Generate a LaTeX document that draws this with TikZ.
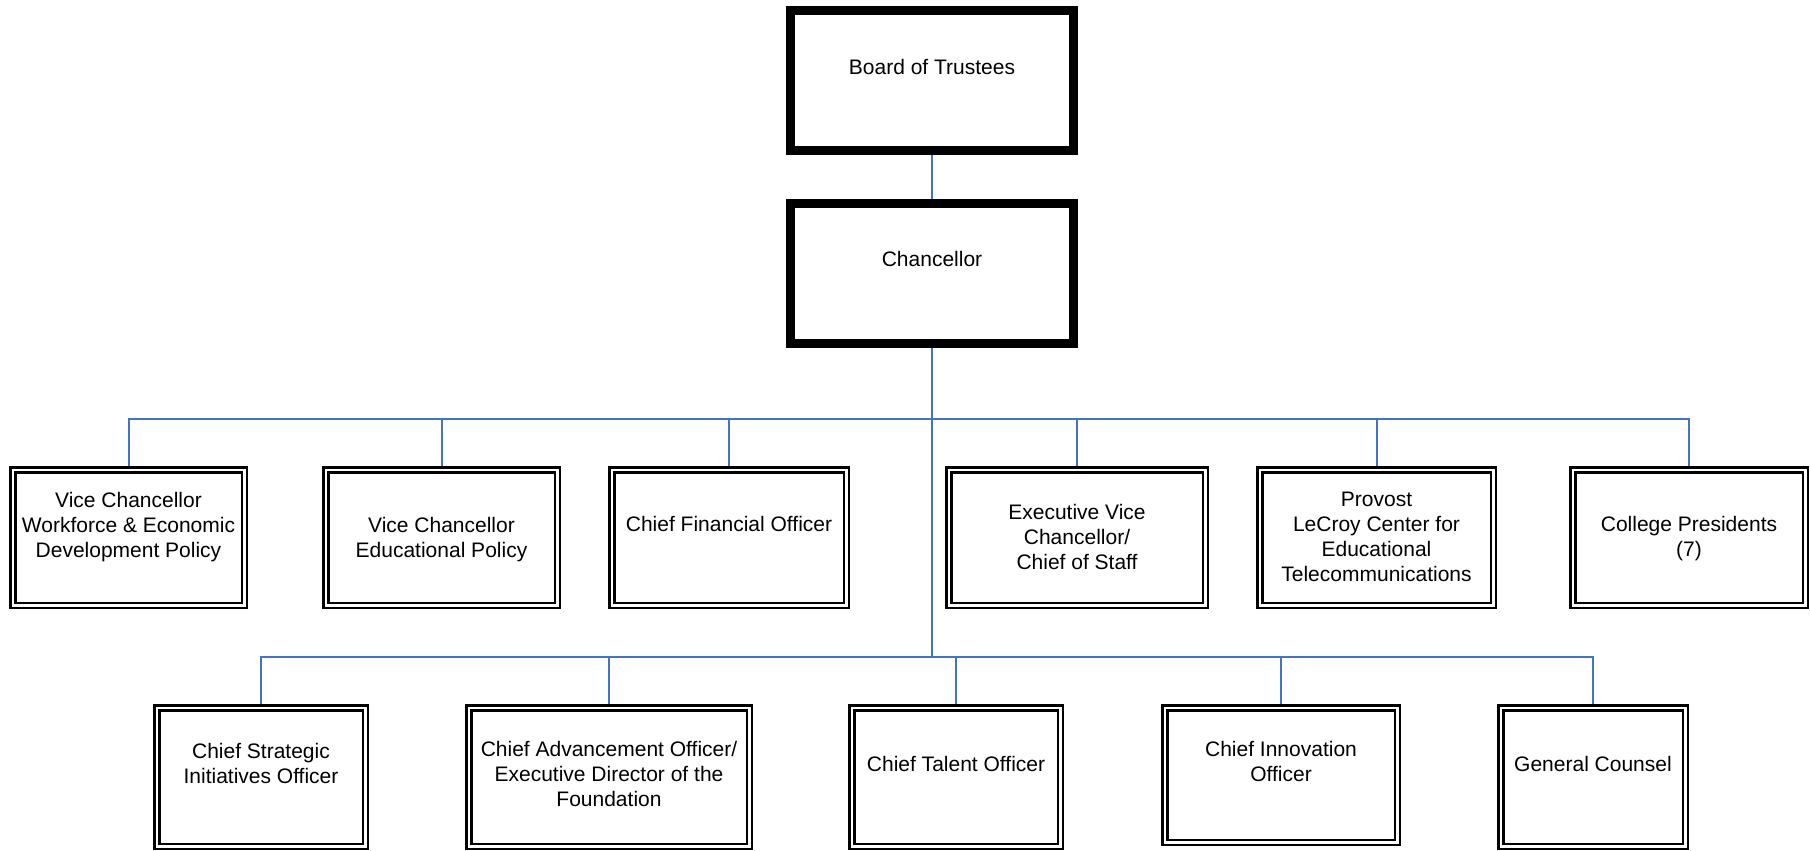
\documentclass[tikz,border=0pt]{standalone}
\usepackage{fontspec}
\setmainfont{Liberation Sans}
\usetikzlibrary{backgrounds}
\definecolor{connblue}{HTML}{4472C4}
\tikzset{
  thickbox/.style={draw=black, line width=9pt, minimum width=283pt, minimum height=140pt, inner sep=0pt},
  dbox/.style={draw=black, double=white, line width=2.5pt, double distance=2.5pt, inner sep=0pt},
  lbl/.style={align=center, inner sep=0pt, font=\fontsize{21pt}{25pt}\selectfont},
  conn/.style={draw=connblue, line width=2pt}
}
\begin{document}
\begin{tikzpicture}[x=1pt, y=-1pt]
\useasboundingbox (0,0) rectangle (1810,851);
% top
\node[thickbox] (board) at (932,80.5) {};
\node[thickbox] (chan) at (932,273) {};
% row 1
\node[dbox, minimum width=231.5pt, minimum height=135.5pt] (vc1) at (128.5,537.5) {};
\node[dbox, minimum width=231.5pt, minimum height=135.5pt] (vc2) at (441.5,537.5) {};
\node[dbox, minimum width=234.5pt, minimum height=135.5pt] (cfo) at (729,537.5) {};
\node[dbox, minimum width=256.5pt, minimum height=135.5pt] (evc) at (1077,537.5) {};
\node[dbox, minimum width=233.5pt, minimum height=135.5pt] (prov) at (1376.5,537.5) {};
\node[dbox, minimum width=232.5pt, minimum height=135.5pt] (cp) at (1689,537.5) {};
% row 2
\node[dbox, minimum width=208.5pt, minimum height=138.5pt] (csio) at (261,777) {};
\node[dbox, minimum width=280.5pt, minimum height=138.5pt] (cao) at (609,777) {};
\node[dbox, minimum width=208.5pt, minimum height=138.5pt] (cto) at (956,777) {};
\node[dbox, minimum width=232.5pt, minimum height=134.5pt] (cio) at (1281,775) {};
\node[dbox, minimum width=184.5pt, minimum height=138.5pt] (gc) at (1593,777) {};
% labels
\node[lbl] (t-board) at ([yshift=14pt]board.center) {Board of Trustees};
\node[lbl] (t-chan) at ([yshift=14pt]chan.center) {Chancellor};
\node[lbl] (t-vc1) at ([yshift=10pt]vc1.center) {Vice Chancellor\\Workforce \& Economic\\Development Policy};
\node[lbl] (t-vc2) at ([yshift=-2pt]vc2.center) {Vice Chancellor\\Educational Policy};
\node[lbl] (t-cfo) at ([yshift=14pt]cfo.center) {Chief Financial Officer};
\node[lbl] (t-evc) at ([yshift=1pt]evc.center) {Executive Vice\\Chancellor/\\Chief of Staff};
\node[lbl] (t-prov) at ([yshift=1pt]prov.center) {Provost\\LeCroy Center for\\Educational\\Telecommunications};
\node[lbl] (t-cp) at ([yshift=-1pt]cp.center) {College Presidents\\(7)};
\node[lbl] (t-csio) at ([yshift=14pt]csio.center) {Chief Strategic\\Initiatives Officer};
\node[lbl] (t-cao) at ([yshift=3.5pt]cao.center) {Chief Advancement Officer/\\Executive Director of the\\Foundation};
\node[lbl] (t-cto) at ([yshift=13pt]cto.center) {Chief Talent Officer};
\node[lbl] (t-cio) at ([yshift=14pt]cio.center) {Chief Innovation\\Officer};
\node[lbl] (t-gc) at ([yshift=13pt]gc.center) {General Counsel};
% connectors
\coordinate (j1) at (932,419);
\coordinate (j2) at (932,657);
\begin{scope}[on background layer]
\draw[conn] (board.south) -- (chan.north);
\draw[conn] (chan.south) -- (j2);
\draw[conn] (j1) -| (vc1.north);
\draw[conn] (j1) -| (vc2.north);
\draw[conn] (j1) -| (cfo.north);
\draw[conn] (j1) -| (evc.north);
\draw[conn] (j1) -| (prov.north);
\draw[conn] (j1) -| (cp.north);
\draw[conn] (j2) -| (csio.north);
\draw[conn] (j2) -| (cao.north);
\draw[conn] (j2) -| (cto.north);
\draw[conn] (j2) -| (cio.north);
\draw[conn] (j2) -| (gc.north);
\end{scope}
\end{tikzpicture}
\end{document}
